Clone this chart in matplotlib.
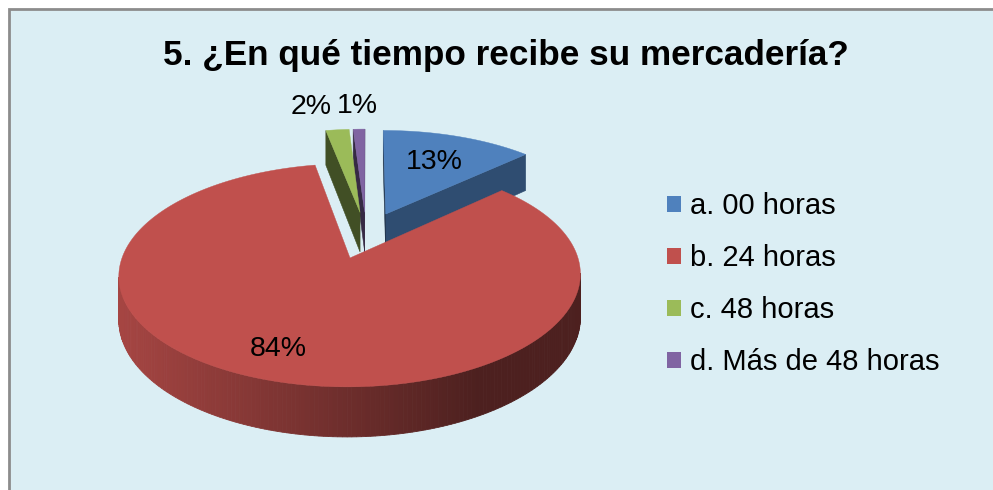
import numpy as np
import matplotlib
matplotlib.use("Agg")
import matplotlib.pyplot as plt
from matplotlib.patches import Polygon, Rectangle, Patch

# ---------------- data ----------------
title = "5. ¿En qué tiempo recibe su mercadería?"
categories = ["a. 00 horas", "b. 24 horas", "c. 48 horas", "d. Más de 48 horas"]
values = [13, 84, 2, 1]
pct_labels = ["13%", "84%", "2%", "1%"]

# ---------------- style ----------------
top_colors = ["#4F81BD", "#C0504D", "#9BBB59", "#8064A2"]
bg_color = "#DBEEF4"
plt.rcParams['font.family'] = ['Liberation Sans', 'DejaVu Sans']

W, H = 993, 490
fig = plt.figure(figsize=(W / 100, H / 100), dpi=100)
fig.patch.set_facecolor("white")
ax = fig.add_axes([0, 0, 1, 1])
ax.set_xlim(0, W)
ax.set_ylim(H, 0)
ax.axis("off")

ax.add_patch(Rectangle((8.5, 9.5), 1100, 700, facecolor=bg_color,
                       edgecolor="#8C8C8C", lw=2, zorder=0))

# projection of the 3D pie (world: X right, Y back, Z=0 top / 1 bottom)
CX, CY, A, B, HZ, K = 366.2, 234.9, 220.5, 101.9, 40.9, 0.15
EXPLODE = 0.23
START = 90.0


def proj(X, Y, Z):
    s = 1.0 / (1.0 + K * Y)
    return CX + A * X * s, CY + (-B * Y + HZ * Z) * s


def visible(pts):
    x = np.array([p[0] for p in pts])
    y = -np.array([p[1] for p in pts])
    area = 0.5 * np.sum(x * np.roll(y, -1) - np.roll(x, -1) * y)
    return area > 0


def shade(color, f):
    rgb = np.array(matplotlib.colors.to_rgb(color))
    return tuple(np.clip(rgb * f, 0, 1))


def grad_factor(x):
    t = np.clip((x - 122.0) / (480.0 - 122.0), 0, 1)
    return 0.86 - 0.46 * t


total = float(sum(values))
fr = np.array(values) / total
cum = np.concatenate([[0], np.cumsum(fr)])
slices = []
for i in range(len(values)):
    hi = np.radians(START - 360 * cum[i])
    lo = np.radians(START - 360 * cum[i + 1])
    mid = 0.5 * (lo + hi)
    slices.append((i, lo, hi, mid))


def front_dist(mid):
    d = abs(((np.degrees(mid) - 270) + 180) % 360 - 180)
    return d


order = sorted(slices, key=lambda s: -front_dist(s[3]))

for (i, lo, hi, mid) in order:
    ox, oy = EXPLODE * np.cos(mid), EXPLODE * np.sin(mid)
    col = top_colors[i]
    n = max(4, int(np.degrees(hi - lo) / 1.0))
    ang = np.linspace(lo, hi, n + 1)

    def P(r, a, z):
        return proj(ox + r * np.cos(a), oy + r * np.sin(a), z)

    Ct, Cb = proj(ox, oy, 0), proj(ox, oy, 1)
    # radial walls
    sw = [Cb, P(1, lo, 1), P(1, lo, 0), Ct]
    if visible(sw):
        ax.add_patch(Polygon(sw, closed=True, facecolor=shade(col, 0.6),
                             edgecolor=shade(col, 0.6), lw=0.4, zorder=2))
    ew = [P(1, hi, 1), Cb, Ct, P(1, hi, 0)]
    if visible(ew):
        ax.add_patch(Polygon(ew, closed=True, facecolor=shade(col, 0.42),
                             edgecolor=shade(col, 0.42), lw=0.4, zorder=2))
    # outer curved wall
    for a1, a2 in zip(ang[:-1], ang[1:]):
        q = [P(1, a1, 1), P(1, a2, 1), P(1, a2, 0), P(1, a1, 0)]
        if visible(q):
            xm = np.mean([p[0] for p in q])
            c = shade(col, grad_factor(xm))
            ax.add_patch(Polygon(q, closed=True, facecolor=c, edgecolor=c,
                                 lw=0.6, zorder=2))
    # top face
    top = [Ct] + [P(1, a, 0) for a in ang]
    ax.add_patch(Polygon(top, closed=True, facecolor=col, edgecolor=col,
                         lw=0.3, zorder=2))

# data labels
for (i, lo, hi, mid) in slices:
    ox, oy = EXPLODE * np.cos(mid), EXPLODE * np.sin(mid)
    if fr[i] > 0.05:
        r = 0.64 if fr[i] < 0.5 else 0.78
        ha = "center"
    else:
        r = 1.33
        ha = "right" if np.cos(mid) < -0.05 else "center"
    x, y = proj(ox + r * np.cos(mid), oy + r * np.sin(mid), 0)
    if fr[i] > 0.5:
        x -= 8
    ax.text(x, y, pct_labels[i], ha=ha, va="center", fontsize=20.5,
            color="black", zorder=5)

# title
ax.text(506, 55, title, ha="center", va="center", fontsize=25.3,
        fontweight="bold", color="black", zorder=5)

# legend
handles = [Patch(facecolor=c, edgecolor="none") for c in top_colors]
fig.legend(handles, categories, loc="upper left",
           bbox_to_anchor=(667 / W, 1 - 192.5 / H), frameon=False,
           fontsize=21, handlelength=0.48, handleheight=0.48,
           handletextpad=0.31, labelspacing=0.82, borderpad=0,
           borderaxespad=0)

fig.savefig("out.png", dpi=100, facecolor=fig.get_facecolor())
